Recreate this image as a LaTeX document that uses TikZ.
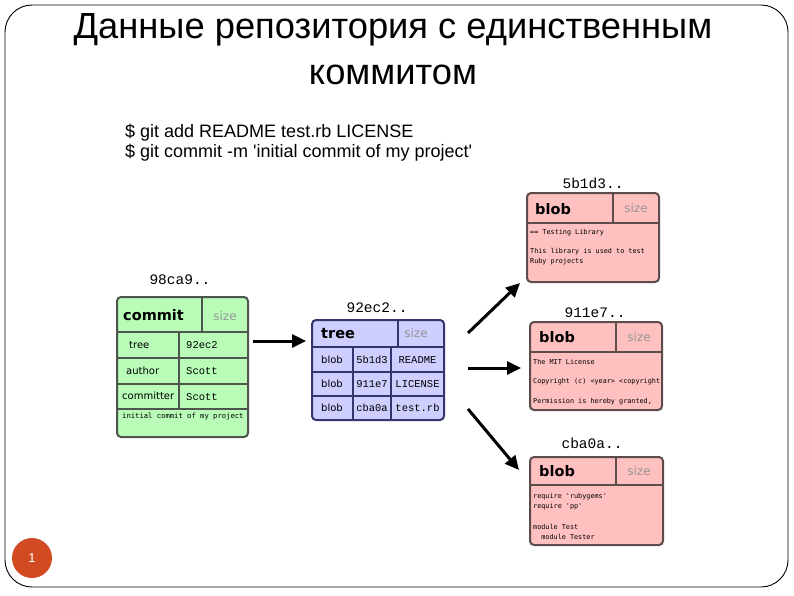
\documentclass[tikz,border=0pt]{standalone}
\usepackage{fontspec}
\setmainfont{Liberation Sans}
\newfontfamily\boxsans{DejaVu Sans}
\newfontfamily\hashmono{Liberation Mono}
\newfontfamily\notemono{DejaVu Sans Mono}
\usetikzlibrary{arrows.meta}
\definecolor{commitfill}{RGB}{184,252,184}
\definecolor{commitline}{RGB}{78,84,78}
\definecolor{treefill}{RGB}{206,206,255}
\definecolor{treeline}{RGB}{52,52,110}
\definecolor{blobfill}{RGB}{255,192,192}
\definecolor{blobline}{RGB}{92,76,76}
\definecolor{sizegray}{RGB}{150,150,150}
\definecolor{pagedot}{RGB}{210,74,34}

\begin{document}
\begin{tikzpicture}[
  x=1pt,y=-1pt,
  frame/.style={draw=black,line width=0.9pt,rounded corners=27pt},
  title/.style={align=center,inner sep=0pt,anchor=north,font=\fontsize{36.3}{46}\selectfont},
  cmd/.style={anchor=base west,inner sep=0pt,font=\fontsize{18}{20}\selectfont},
  hashlbl/.style={inner sep=0pt,font=\hashmono\fontsize{14.5}{16}\selectfont},
  objbox/.style={rectangle,line width=2pt,rounded corners=4pt,inner sep=0pt},
  split/.style={line width=1.8pt},
  rowline/.style={line width=1.1pt},
  hdr/.style={anchor=west,inner sep=0pt,font=\boxsans\bfseries\fontsize{14.5}{16}\selectfont},
  sizelbl/.style={inner sep=0pt,text=sizegray,font=\boxsans\fontsize{12}{14}\selectfont},
  cell/.style={inner sep=0pt,font=\boxsans\fontsize{10}{12}\selectfont},
  hashcell/.style={inner sep=0pt,font=\hashmono\fontsize{10.5}{12}\selectfont},
  note/.style={anchor=west,inner sep=0pt,font=\notemono\fontsize{6.8}{8}\selectfont},
  bigarrow/.style={-{Triangle[length=14pt,width=13pt]},line width=3pt,black}
]
\useasboundingbox (0,0) rectangle (794,595);
\draw[frame] (5,5) rectangle (788,587);

\node[title] (ttl) at (393,13) {Данные репозитория с единственным\\коммитом};

\node[cmd] (cmd1) at (125,137) {\$ git add README test.rb LICENSE};
\node[cmd] (cmd2) at (125,157) {\$ git commit -m \textquotesingle initial commit of my project\textquotesingle};

% commit
\node[hashlbl] (h98) at (180,280) {98ca9..};
\node[objbox,draw=commitline,fill=commitfill,minimum width=131pt,minimum height=140pt] (commit) at (182.5,367) {};
\draw[split,commitline] (117,332) -- (248,332);
\draw[split,commitline] (202,297) -- (202,332);
\draw[split,commitline] (117,409) -- (248,409);
\draw[rowline,commitline] (117,358) -- (248,358);
\draw[rowline,commitline] (117,384) -- (248,384);
\draw[rowline,commitline] (179,332) -- (179,409);
\node[hdr] (chdr) at (123,315) {commit};
\node[sizelbl] (csize) at (225,316) {size};
\node[cell,anchor=west] (ctree) at (129,345) {tree};
\node[cell,anchor=west] (cauth) at (126,371) {author};
\node[cell,anchor=west] (ccomm) at (122,396) {committer};
\node[hashcell,anchor=west] (ctreev) at (186,345) {92ec2};
\node[hashcell,anchor=west] (cauthv) at (186,371) {Scott};
\node[hashcell,anchor=west] (ccommv) at (186,397) {Scott};
\node[note,font=\notemono\fontsize{7.2}{8}\selectfont] (cmsg) at (122,416) {initial commit of my project};

% tree
\node[hashlbl] (h92) at (377,308) {92ec2..};
\node[objbox,draw=treeline,fill=treefill,minimum width=132pt,minimum height=100pt] (tree) at (378,370) {};
\draw[split,treeline] (312,347) -- (444,347);
\draw[split,treeline] (398,320) -- (398,347);
\draw[rowline,treeline] (312,372) -- (444,372);
\draw[rowline,treeline] (312,396) -- (444,396);
\draw[rowline,treeline] (353,347) -- (353,420);
\draw[rowline,treeline] (391,347) -- (391,420);
\node[hdr] (thdr) at (321,334) {tree};
\node[sizelbl] (tsize) at (416,333) {size};
\foreach \y/\h/\f [count=\i] in {360/5b1d3/README,384/911e7/LICENSE,408/cba0a/test.rb}{
  \node[cell] (tb\i) at (332,\y) {blob};
  \node[hashcell] (th\i) at (372,\y) {\h};
  \node[hashcell] (tf\i) at (417.5,\y) {\f};
}

% blobs
\node[hashlbl] (h5b) at (593,183) {5b1d3..};
\node[objbox,draw=blobline,fill=blobfill,minimum width=132pt,minimum height=89pt] (blobA) at (593,237.5) {};
\draw[split,blobline] (527,223) -- (659,223);
\draw[split,blobline] (613,193) -- (613,223);
\node[hdr] (bAhdr) at (535,209) {blob};
\node[sizelbl] (bAsize) at (636,208) {size};
\node[note] (bA1) at (530,233) {== Testing Library};
\node[note] (bA2) at (530,252) {This library is used to test};
\node[note] (bA3) at (530,262) {Ruby projects};

\node[hashlbl] (h91) at (595,313) {911e7..};
\node[objbox,draw=blobline,fill=blobfill,minimum width=132pt,minimum height=88pt] (blobB) at (596,366) {};
\draw[split,blobline] (530,352) -- (662,352);
\draw[split,blobline] (616,322) -- (616,352);
\node[hdr] (bBhdr) at (539,337) {blob};
\node[sizelbl] (bBsize) at (639,337) {size};
\node[note] (bB1) at (533,362) {The MIT License};
\node[note] (bB2) at (533,382) {Copyright (c) <year> <copyright};
\node[note] (bB3) at (533,402) {Permission is hereby granted,};

\node[hashlbl] (hcb) at (592,443) {cba0a..};
\node[objbox,draw=blobline,fill=blobfill,minimum width=133pt,minimum height=88pt] (blobC) at (596.5,501) {};
\draw[split,blobline] (530,485) -- (663,485);
\draw[split,blobline] (616,457) -- (616,485);
\node[hdr] (bChdr) at (539,471) {blob};
\node[sizelbl] (bCsize) at (639,471) {size};
\node[note] (bC1) at (533,497) {require 'rubygems'};
\node[note] (bC2) at (533,507) {require 'pp'};
\node[note] (bC3) at (533,527) {module Test};
\node[note] (bC4) at (533,537) {\ \ module Tester};

% arrows
\coordinate (a0s) at (253,341);
\coordinate (a0e) at (306,341);
\coordinate (a1s) at (468,333);
\coordinate (a1e) at (520,283);
\coordinate (a2s) at (468,368);
\coordinate (a2e) at (521,368);
\coordinate (a3s) at (468,409);
\coordinate (a3e) at (519,470);
\draw[bigarrow] (a0s) -- (a0e);
\draw[bigarrow] (a1s) -- (a1e);
\draw[bigarrow] (a2s) -- (a2e);
\draw[bigarrow] (a3s) -- (a3e);

\node[circle,fill=pagedot,minimum size=40pt,inner sep=0pt,text=white,font=\fontsize{13}{15}\selectfont] (pg) at (32,558) {1};
\end{tikzpicture}
\end{document}
